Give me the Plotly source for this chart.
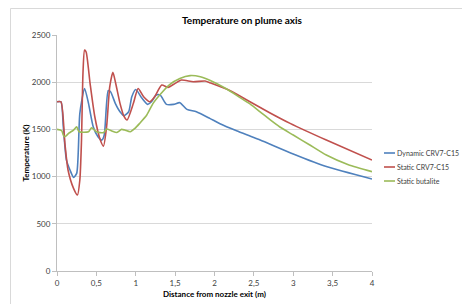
import plotly.graph_objects as go

# Dynamic CRV7-C15
dyn_x = [0, 0.05, 0.08, 0.12, 0.165, 0.21, 0.25, 0.29, 0.35, 0.40, 0.46, 0.52, 0.57, 0.60,
         0.65, 0.68, 0.74, 0.80, 0.85, 0.91, 0.95, 1.00, 1.08, 1.15, 1.20, 1.26, 1.31, 1.39,
         1.48, 1.56, 1.65, 1.77, 1.94, 2.07, 2.28, 2.45, 2.58, 3.0, 3.42, 4.0]
dyn_y = [1793, 1793, 1528, 1175, 1070, 992, 1034, 1670, 1934, 1776, 1528, 1422, 1387, 1440,
         1909, 1899, 1776, 1687, 1645, 1687, 1846, 1922, 1829, 1765, 1793, 1864, 1864, 1765,
         1765, 1783, 1712, 1687, 1617, 1560, 1485, 1430, 1388, 1240, 1106, 974]

# Static CRV7-C15
sta_x = [0, 0.05, 0.10, 0.14, 0.21, 0.26, 0.29, 0.31, 0.33, 0.35, 0.37, 0.42, 0.48, 0.55,
         0.59, 0.63, 0.67, 0.71, 0.75, 0.80, 0.85, 0.89, 0.97, 1.03, 1.10, 1.18, 1.24, 1.33,
         1.41, 1.50, 1.58, 1.73, 1.88, 1.94, 2.20, 2.45, 2.70, 2.96, 3.42, 4.0]
sta_y = [1793, 1793, 1352, 1070, 876, 805, 964, 1352, 2100, 2340, 2320, 1988, 1634, 1387,
         1323, 1528, 1952, 2105, 1970, 1776, 1640, 1599, 1776, 1934, 1846, 1793, 1846, 1970,
         1945, 1988, 2023, 2005, 2012, 1994, 1909, 1793, 1677, 1564, 1387, 1175]

# Static butalite
but_x = [0, 0.06, 0.08, 0.10, 0.15, 0.21, 0.25, 0.28, 0.40, 0.44, 0.50, 0.59, 0.63, 0.69,
         0.76, 0.82, 0.86, 0.93, 0.99, 1.05, 1.14, 1.22, 1.31, 1.43, 1.56, 1.69, 1.82, 1.94,
         2.15, 2.32, 2.45, 2.58, 2.70, 2.83, 3.0, 3.2, 3.42, 3.7, 4.0]
but_y = [1500, 1486, 1440, 1422, 1460, 1493, 1528, 1475, 1475, 1518, 1475, 1465, 1504, 1486,
         1468, 1500, 1493, 1475, 1511, 1564, 1652, 1776, 1870, 1975, 2040, 2070, 2058, 2020,
         1930, 1840, 1770, 1685, 1605, 1525, 1440, 1340, 1228, 1125, 1052]

names = ["Dynamic CRV7-C15", "Static CRV7-C15", "Static butalite"]
colors = ["#4f81bd", "#c0504d", "#9bbb59"]

font = "Lato, 'Open Sans', sans-serif"
W, H = 462, 304
L, R, T, B = 57, 90, 35, 33
PW, PH = W - L - R, H - T - B

def px(xd):
    return (xd - L) / PW

def py(yd):
    return (H - B - yd) / PH

fig = go.Figure()
for x, y, n, c in zip([dyn_x, sta_x, but_x], [dyn_y, sta_y, but_y], names, colors):
    fig.add_trace(go.Scatter(x=x, y=y, name=n, mode="lines", showlegend=False,
                             line=dict(color=c, width=1.6, shape="spline", smoothing=0.6)))

fig.update_layout(
    width=W, height=H,
    margin=dict(l=L, r=R, t=T, b=B, autoexpand=False),
    paper_bgcolor="white", plot_bgcolor="white",
    font=dict(family=font, size=8, color="#404040"),
    title=dict(text="<b>Temperature on plume axis</b>", x=242 / W, xanchor="center",
               y=1 - 20 / H, yanchor="middle", font=dict(size=10, color="#000000")),
    xaxis=dict(range=[0, 4], dtick=0.5, tickformat=".1~f", showgrid=False, zeroline=False,
               showline=True, linecolor="#bfbfbf", linewidth=1, ticks="outside", ticklen=4,
               tickcolor="#bfbfbf", automargin=False,
               title=dict(text="<b>Distance from nozzle exit (m)</b>", font=dict(size=8, color="#000000"),
                          standoff=4)),
    yaxis=dict(range=[0, 2500], dtick=500, showgrid=True, gridcolor="#d9d9d9", gridwidth=1,
               zeroline=False, showline=True, linecolor="#bfbfbf", linewidth=1, ticks="outside",
               ticklen=4, tickcolor="#bfbfbf", automargin=False,
               title=dict(text="<b>Temperature (K)</b>", font=dict(size=8, color="#000000"), standoff=1)),
    separators=", ",
)
# outer chart frame
fig.add_shape(type="rect", xref="paper", yref="paper", x0=px(10.5), x1=px(W + 20), y0=py(H + 20),
              y1=py(8.5), line=dict(color="#d9d9d9", width=1), fillcolor="rgba(0,0,0,0)", layer="below")
# legend
for i, (n, c) in enumerate(zip(names, colors)):
    yy = 153 + 14 * i
    fig.add_shape(type="line", xref="paper", yref="paper", x0=px(384), x1=px(395), y0=py(yy), y1=py(yy),
                  line=dict(color=c, width=1.6))
    fig.add_annotation(xref="paper", yref="paper", x=px(395), y=py(yy), text=n, showarrow=False,
                       xanchor="left", yanchor="middle", font=dict(size=7, color="#404040"))
fig.write_html("out.html", config={"displayModeBar": False},
               post_script="document.body.style.margin='0';document.body.style.overflow='hidden';")
